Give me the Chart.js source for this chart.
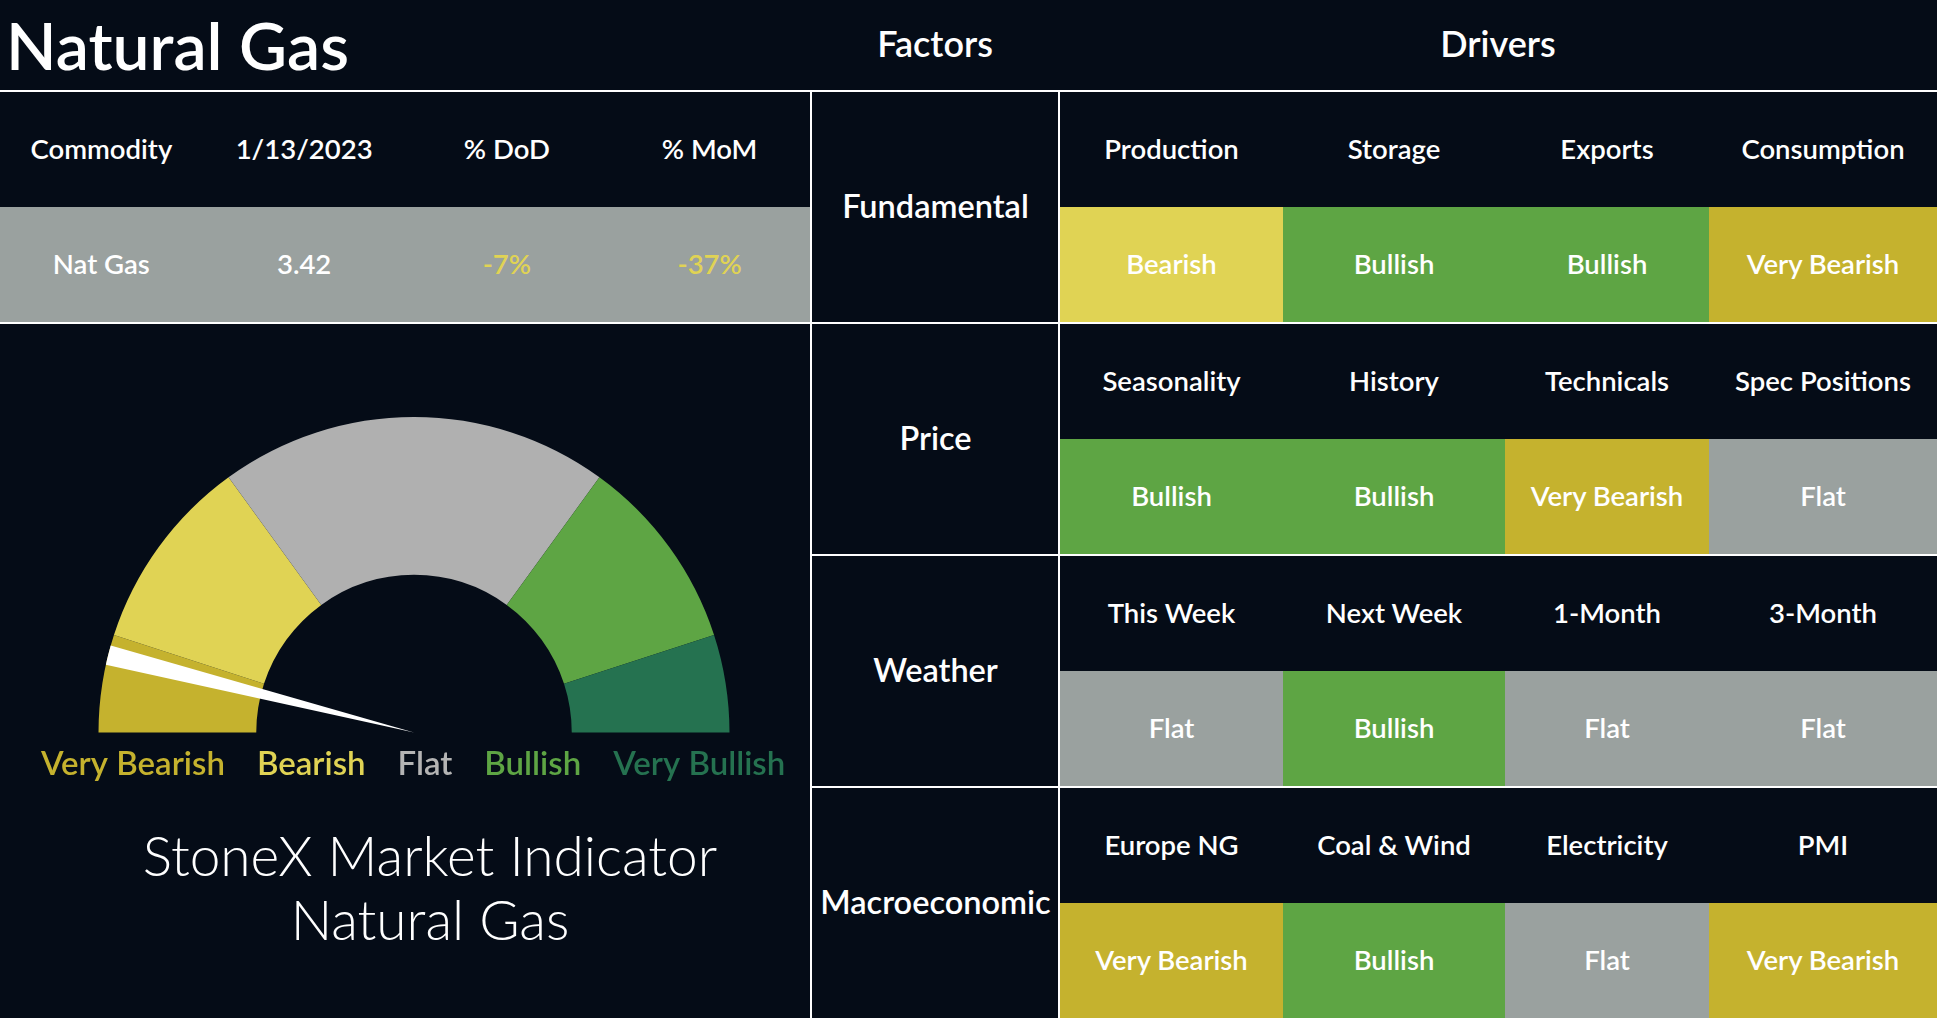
<!DOCTYPE html>
<html>
<head>
<meta charset="utf-8">
<script src="https://cdn.jsdelivr.net/npm/chart.js@4.4.0/dist/chart.umd.min.js"></script>
<style>
  html, body { margin: 0; padding: 0; background: #050c17; }
  body { width: 1937px; height: 1018px; position: relative; overflow: hidden; font-family: Lato, "Open Sans", sans-serif; color: #fff; }
  .abs { position: absolute; }
  .cell { position: absolute; box-sizing: border-box; padding-bottom: 3px; display: flex; align-items: center; justify-content: center; font-weight: 600; font-size: 27.5px; white-space: nowrap; }
  .hline { position: absolute; height: 2px; background: #fff; }
  .vline { position: absolute; width: 2px; background: #fff; }
  #title { left: 6px; top: 0; height: 88px; display: flex; align-items: center; font-size: 66px; font-weight: 600; }
  #caption { left: 0; width: 860px; top: 823px; text-align: center; font-size: 55px; font-weight: 300; line-height: 64px; }
  canvas { position: absolute; }
</style>
</head>
<body>
<div id="title" class="abs">Natural Gas</div>
<div id="grid"></div>
<canvas id="gauge" width="810" height="374"></canvas>
<canvas id="needle" width="810" height="374"></canvas>
<div id="caption" class="abs">StoneX Market Indicator<br>Natural Gas</div>

<script>
// gauge
var gaugeLabels = ["Very Bearish", "Bearish", "Flat", "Bullish", "Very Bullish"];
var gaugeBands = [10, 20, 40, 20, 10];
var needle = [6.9, 2.0, 91.1];

// table
var commodityHeaders = ["Commodity", "1/13/2023", "% DoD", "% MoM"];
var commodityRow = ["Nat Gas", "3.42", "-7%", "-37%"];

var factors = ["Fundamental", "Price", "Weather", "Macroeconomic"];
var drivers = [
    ["Production", "Storage", "Exports", "Consumption"],
    ["Seasonality", "History", "Technicals", "Spec Positions"],
    ["This Week", "Next Week", "1-Month", "3-Month"],
    ["Europe NG", "Coal & Wind", "Electricity", "PMI"]
];
var signals = [
    ["Bearish", "Bullish", "Bullish", "Very Bearish"],
    ["Bullish", "Bullish", "Very Bearish", "Flat"],
    ["Flat", "Bullish", "Flat", "Flat"],
    ["Very Bearish", "Bullish", "Flat", "Very Bearish"]
];

var gaugeColors = ["#c5b22e", "#e0d354", "#b0b0b0", "#5ea544", "#257250"];
var labelColors = ["#c5b22e", "#e0d354", "#b4b4b4", "#5ea544", "#257250"];
var cellColors = {
    "Very Bearish": "#c5b22e",
    "Bearish": "#e0d354",
    "Flat": "#9aa19f",
    "Bullish": "#5ea544",
    "Very Bullish": "#257250"
};

var grid = document.getElementById("grid");

function addCell(x, y, w, h, text, bg, color, size) {
    var d = document.createElement("div");
    d.className = "cell";
    d.style.left = x + "px";
    d.style.top = y + "px";
    d.style.width = w + "px";
    d.style.height = h + "px";
    if (bg) d.style.background = bg;
    if (color) d.style.color = color;
    if (size) d.style.fontSize = size + "px";
    d.textContent = text;
    grid.appendChild(d);
}
function addLine(cls, x, y, len) {
    var d = document.createElement("div");
    d.className = cls;
    d.style.left = x + "px";
    d.style.top = y + "px";
    if (cls == "hline") d.style.width = len + "px";
    else d.style.height = len + "px";
    grid.appendChild(d);
}

// header
addCell(811, 0, 248, 88, "Factors", null, null, 36);
addCell(1059, 0, 878, 88, "Drivers", null, null, 36);

// commodity table
var colW = 811 / 4;
for (var i = 0; i < 4; i++) {
    addCell(i * colW, 92, colW, 115, commodityHeaders[i]);
    addCell(i * colW, 207, colW, 115, commodityRow[i], "#9aa19f", i >= 2 ? "#e0d354" : "#fff");
}

// factor blocks
var colX = [1060, 1283, 1505, 1709, 1937];
var blockTop = [92, 324, 556, 788];
for (var b = 0; b < 4; b++) {
    var t = blockTop[b];
    addCell(812, t, 247, 230, factors[b], null, null, 32.5);
    for (var c = 0; c < 4; c++) {
        addCell(colX[c], t, colX[c + 1] - colX[c], 115, drivers[b][c]);
        addCell(colX[c], t + 115, colX[c + 1] - colX[c], 115, signals[b][c], cellColors[signals[b][c]]);
    }
}

// lines
addLine("hline", 0, 90, 1937);
addLine("hline", 0, 322, 1937);
addLine("hline", 811, 554, 1126);
addLine("hline", 811, 786, 1126);
addLine("vline", 810, 90, 928);
addLine("vline", 1058, 90, 928);

// gauge chart + needle chart on top, same layout
function legendItems(colors) {
    return function () {
        return gaugeLabels.map(function (t, i) {
            return {
                text: t, fontColor: colors[i],
                fillStyle: "rgba(0,0,0,0)", strokeStyle: "rgba(0,0,0,0)",
                lineWidth: 0, hidden: false, index: i
            };
        });
    };
}

function gaugeConfig(values, colors, cutout, textColors) {
    return {
        type: "doughnut",
        data: {
            labels: values.map(function (v, i) { return gaugeLabels[i] || ""; }),
            datasets: [{
                data: values,
                backgroundColor: colors,
                borderWidth: 0,
                hoverOffset: 0
            }]
        },
        options: {
            responsive: false,
            animation: false,
            events: [],
            rotation: -90,
            circumference: 180,
            cutout: cutout,
            layout: { padding: 0 },
            plugins: {
                tooltip: { enabled: false },
                legend: {
                    position: "bottom",
                    align: "start",
                    labels: {
                        boxWidth: 0,
                        boxHeight: 0,
                        padding: 15.5,
                        font: { family: "Lato", size: 33, weight: "600" },
                        generateLabels: legendItems(textColors)
                    }
                }
            }
        }
    };
}

var gEl = document.getElementById("gauge");
var nEl = document.getElementById("needle");
[gEl, nEl].forEach(function (el) {
    el.style.left = "9px";
    el.style.top = "416.5px";
});

new Chart(gEl, gaugeConfig(gaugeBands, gaugeColors, "50%", labelColors));
new Chart(nEl, gaugeConfig(needle, ["rgba(0,0,0,0)", "#ffffff", "rgba(0,0,0,0)"], 0,
    labelColors.map(function () { return "rgba(0,0,0,0)"; })));
</script>
</body>
</html>
